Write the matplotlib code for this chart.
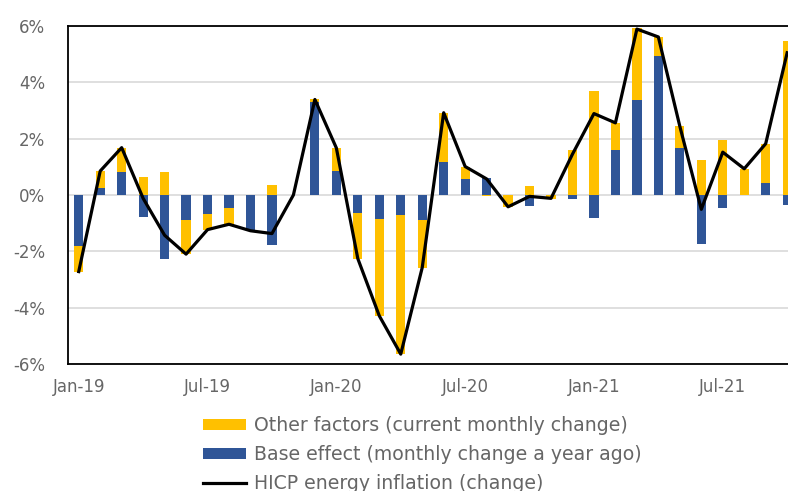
import matplotlib

matplotlib.use("Agg")
import matplotlib.pyplot as plt
import numpy as np
from matplotlib.ticker import FixedLocator, FuncFormatter

months = [
    "Jan-19", "Feb-19", "Mar-19", "Apr-19", "May-19", "Jun-19",
    "Jul-19", "Aug-19", "Sep-19", "Oct-19", "Nov-19", "Dec-19",
    "Jan-20", "Feb-20", "Mar-20", "Apr-20", "May-20", "Jun-20",
    "Jul-20", "Aug-20", "Sep-20", "Oct-20", "Nov-20", "Dec-20",
    "Jan-21", "Feb-21", "Mar-21", "Apr-21", "May-21", "Jun-21",
    "Jul-21", "Aug-21", "Sep-21", "Oct-21",
]
base_effect = [
    -1.81, 0.24, 0.81, -0.77, -2.26, -0.89,
    -0.69, -0.48, -1.25, -1.76, 0.00, 3.31,
    0.85, -0.63, -0.86, -0.71, -0.89, 1.17,
    0.55, 0.60, 0.00, -0.40, 0.00, -0.13,
    -0.83, 1.61, 3.37, 4.92, 1.67, -1.75,
    -0.48, 0.00, 0.42, -0.36,
]
other_factors = [
    -0.93, 0.61, 0.87, 0.65, 0.81, -1.21,
    -0.56, -0.56, -0.02, 0.36, 0.00, 0.08,
    0.82, -1.63, -3.43, -4.94, -1.69, 1.75,
    0.46, -0.03, -0.44, 0.31, -0.15, 1.58,
    3.70, 0.93, 2.56, 0.69, 0.77, 1.23,
    1.96, 0.93, 1.38, 5.45,
]
hicp_energy = [
    -2.72, 0.85, 1.68, -0.12, -1.43, -2.10,
    -1.23, -1.04, -1.27, -1.37, 0.00, 3.39,
    1.67, -2.26, -4.29, -5.65, -2.58, 2.92,
    1.01, 0.57, -0.42, -0.05, -0.12, 1.45,
    2.89, 2.56, 5.89, 5.61, 2.44, -0.51,
    1.52, 0.93, 1.82, 5.05,
]
tick_labels = ["Jan-19", "Jul-19", "Jan-20", "Jul-20", "Jan-21", "Jul-21"]

YELLOW = "#FFC000"
BLUE = "#2F5597"
GREY_TEXT = "#666666"

plt.rcParams["font.family"] = ["DejaVu Sans"]

x = np.arange(len(months))
blue = np.array(base_effect)
yellow = np.array(other_factors)
# yellow stacks on blue only when both point the same way
yellow_bottom = np.where(np.sign(yellow) == np.sign(blue), blue, 0.0)

fig = plt.figure(figsize=(7.88, 4.91), dpi=100)
ax = fig.add_axes([0.0863, 0.2587, 0.9535, 0.6884])

width = 0.43
bars_y = ax.bar(x, yellow, width, bottom=yellow_bottom, color=YELLOW, zorder=2)
bars_b = ax.bar(x, blue, width, color=BLUE, zorder=2)
(line,) = ax.plot(x, hicp_energy, color="black", lw=2.3, zorder=3)

ax.set_xlim(-0.5, 34.5)
ax.set_ylim(-6, 6)
ax.yaxis.set_major_locator(FixedLocator([-6, -4, -2, 0, 2, 4, 6]))
ax.yaxis.set_major_formatter(FuncFormatter(lambda v, _: f"{v:.0f}%"))
ax.set_xticks([months.index(m) for m in tick_labels])
ax.set_xticklabels(tick_labels)
ax.tick_params(axis="both", length=0, colors=GREY_TEXT, labelsize=12)
ax.tick_params(axis="y", pad=16.5)
ax.tick_params(axis="x", pad=10)

ax.grid(axis="y", color="#D9D9D9", lw=1.2, zorder=0)
ax.set_axisbelow(True)
for side in ["left", "bottom", "top"]:
    ax.spines[side].set_color("black")
    ax.spines[side].set_linewidth(1.3)
ax.spines["right"].set_visible(False)

leg = fig.legend(
    [bars_y, bars_b, line],
    ["Other factors (current monthly change)",
     "Base effect (monthly change a year ago)",
     "HICP energy inflation (change)"],
    loc="upper left", bbox_to_anchor=(0.2576, 0.153), frameon=False,
    fontsize=13.6, handlelength=2.3, handleheight=0.55, handletextpad=0.4,
    labelspacing=0.53, borderaxespad=0, borderpad=0,
)
for t in leg.get_texts():
    t.set_color(GREY_TEXT)

fig.savefig("out.png", dpi=100)
